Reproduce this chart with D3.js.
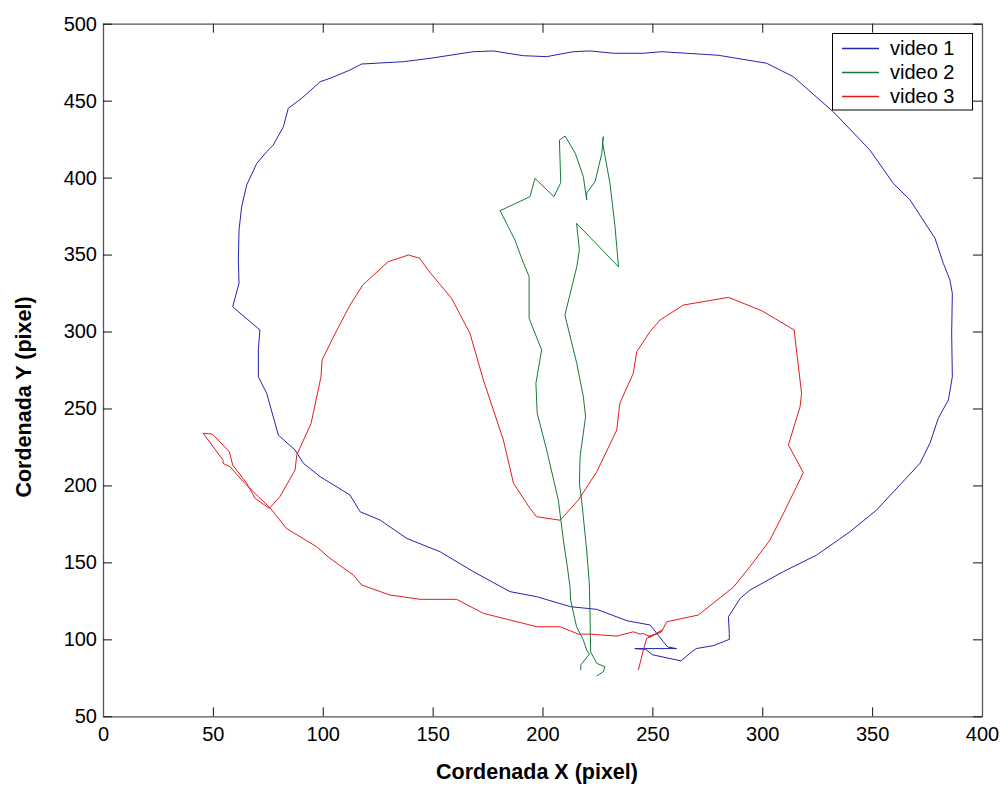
<!DOCTYPE html>
<html><head><meta charset="utf-8">
<script src="https://cdn.jsdelivr.net/npm/d3@7"></script>
<style>
html,body{margin:0;padding:0;background:#fff;}
svg{display:block;font-family:"Liberation Sans",Arial,Helvetica,sans-serif;}
</style></head>
<body><svg id="c" width="1000" height="787"></svg>
<script>
const seriesNames = ["video 1", "video 2", "video 3"];
const seriesColors = ["#2323b0", "#157a36", "#e21c1c"];
const xTicks = [0, 50, 100, 150, 200, 250, 300, 350, 400];
const yTicks = [50, 100, 150, 200, 250, 300, 350, 400, 450, 500];
const xLabel = "Cordenada X (pixel)";
const yLabel = "Cordenada Y (pixel)";

const video1 = [[261,94],[242,94],[247,93.5],[250,90],[263,86],[268,92],[270,94],[278,96],[285,100],[285,104],[284.6,114.7],[290,126.7],[294.4,132],[309.6,144],[324.8,154.8],[339.9,169.9],[352,184],[371.8,214.4],[376.3,227.4],[380.1,243.6],[384.7,255.5],[386.5,270.6],[386.2,298.8],[386.5,324.8],[385.4,333.5],[382.4,344.3],[378.6,360.6],[367.3,385.4],[359.6,396.3],[349,417.9],[332.3,442.8],[314.1,465.6],[302,474.3],[280,479.5],[254.2,481.8],[245.9,480.8],[232.2,480.8],[221.6,482.3],[214,481.8],[201.9,478.6],[191.3,479.2],[177.6,482.3],[168.5,481.8],[148.8,477.5],[136.6,475.3],[117.7,473.8],[112.4,469.9],[103.3,464.5],[98.8,462.3],[90.4,451.5],[84.3,445],[82.1,433.1],[77.5,421.2],[74.5,416.8],[70,409.3],[65.4,395.2],[63.1,381.1],[61.9,366],[61.6,346.5],[61.9,331.3],[59,316.1],[71.4,301],[70.7,288],[70.7,270.6],[74.5,259.8],[79.8,232.7],[87.4,223],[91.2,214.4],[98.8,205.7],[112.4,193.8],[117,182.9],[126.1,177.5],[138.2,165.6],[153.4,156.9],[168.5,144],[185.2,131],[197.4,127.7],[212.8,121.2],[224.7,119.5],[238.4,112.1],[249,109.3],[252.7,102.6],[255,98.4],[257,95],[261,94]];

const video2 = [[217.4,80],[217.4,83.3],[221.3,90.4],[220.1,93],[218.6,99.5],[215.5,108.2],[212.8,125.5],[212.5,134.2],[211.3,147.2],[209.5,164.5],[207.2,190.5],[201.9,223],[197.6,246.8],[197,266.3],[199.6,288],[193.9,308.6],[193.9,335.6],[190.5,347.6],[187.5,359.4],[180.7,378.5],[194.3,387.6],[196.6,399.5],[205.2,387.6],[208.3,396.7],[207.7,424.4],[210.3,427],[214.9,415.8],[218.6,400.6],[220.1,385.5],[220.1,390],[223.9,397.3],[227,415.8],[227.7,426.6],[227.3,423],[230.7,396.3],[233,368.1],[234.6,342],[215.5,370.3],[216.8,353],[215.6,342.1],[210.2,310.7],[215.6,279.3],[218.6,257.6],[219.6,244.6],[217.1,218.7],[216.8,201.4],[217.8,190.5],[220.1,158],[221.3,136.4],[221.6,119],[221.9,91.9],[224.7,84.4],[228.4,82.2],[227.7,79],[224.7,76.2]];

const video3 = [[243.6,80],[245.9,93.1],[247.4,100.7],[251,103],[254.5,106],[249,101.5],[246,103.8],[244.4,103.4],[241.3,104.9],[233.8,102.1],[221.6,103.4],[216.3,103.4],[208,108.2],[197.4,108.2],[173.1,116.9],[160.9,126],[144.3,126],[130.6,128.8],[117.7,135.3],[113.9,141.8],[103.3,152.6],[97.2,160.2],[83.5,172],[76,185.5],[70.7,192.7],[63.8,202.4],[57.8,212.2],[54.6,214.3],[54.7,216.3],[45.6,233.9],[49.8,233.3],[57.5,221.9],[59,213.3],[65.4,201.4],[69.2,191.6],[75.7,185.1],[80.5,192.7],[87.4,210],[88.2,219.8],[94.7,240.4],[99.2,270.6],[99.7,281.5],[104.8,296.4],[112.4,317.2],[113.9,320.5],[118.2,330.2],[129.8,345.4],[139,349.7],[144.1,347.6],[147.9,340],[158.6,321.6],[167,298.8],[173.1,268.5],[182.2,229.5],[186.8,201.4],[194.3,185.1],[197.3,179.7],[208,177.4],[212.2,184],[216.3,190.5],[224.7,208.9],[233.8,236],[235.2,253.4],[241.3,272.8],[242.9,286.9],[248.9,299.9],[253.5,307.5],[264.1,317.2],[284.6,322.2],[299.8,313.5],[314.5,301],[317.9,259.8],[317.2,251.1],[311.9,226.3],[318.7,208.3],[310.4,184],[303.5,164.5],[294.4,147.2],[286.8,133.8],[270.9,115.8],[256.5,111.4],[254.2,104.9],[252,103.5],[248,102]];

const allSeries = [video1, video2, video3];

const svg = d3.select("#c");
const L = 103, T = 23.7, R = 982, B = 716.3;
const x = d3.scaleLinear().domain([0, 400]).range([L, R]);
const y = d3.scaleLinear().domain([50, 500]).range([B, T]);

svg.append("rect").attr("width", 1000).attr("height", 787).attr("fill", "#fff");

// lines
const line = d3.line().x(d => x(d[0])).y(d => y(d[1]));
const g = svg.append("g");
allSeries.forEach((s, i) => {
  g.append("path").datum(s).attr("d", line)
    .attr("fill", "none").attr("stroke", seriesColors[i])
    .attr("stroke-width", 1).attr("stroke-linejoin", "round");
});

// axes
const tickLen = 9;
function styleAxis(sel) {
  sel.selectAll(".domain").attr("stroke", "#555").attr("stroke-width", 1.3);
  sel.selectAll(".tick line").attr("stroke", "#111").attr("stroke-width", 1);
  sel.selectAll(".tick text").attr("fill", "#000").style("font-size", "20px")
    .style("font-family", "'Liberation Sans',Arial,sans-serif");
}
const ax = svg.append("g").attr("transform", `translate(0,${B})`)
  .call(d3.axisBottom(x).tickValues(xTicks).tickSizeInner(-tickLen).tickSizeOuter(0).tickPadding(11));
styleAxis(ax);
const axT = svg.append("g").attr("transform", `translate(0,${T})`)
  .call(d3.axisTop(x).tickValues(xTicks).tickSizeInner(-tickLen).tickSizeOuter(0).tickFormat(""));
styleAxis(axT);
const ay = svg.append("g").attr("transform", `translate(${L},0)`)
  .call(d3.axisLeft(y).tickValues(yTicks).tickSizeInner(-tickLen).tickSizeOuter(0).tickPadding(6));
styleAxis(ay);
const ayR = svg.append("g").attr("transform", `translate(${R},0)`)
  .call(d3.axisRight(y).tickValues(yTicks).tickSizeInner(-tickLen).tickSizeOuter(0).tickFormat(""));
styleAxis(ayR);
ax.selectAll(".tick text").attr("dy", "0.71em");

// axis titles
svg.append("text").attr("x", 537).attr("y", 779).attr("text-anchor", "middle")
  .style("font-size", "21.5px").style("font-weight", "bold").text(xLabel);
svg.append("text").attr("transform", "translate(31,397) rotate(-90)").attr("text-anchor", "middle")
  .style("font-size", "21.5px").style("font-weight", "bold").text(yLabel);

// legend
const lg = svg.append("g");
lg.append("rect").attr("x", 832.5).attr("y", 33.5).attr("width", 140).attr("height", 76.5)
  .attr("fill", "#fff").attr("stroke", "#000").attr("stroke-width", 1);
const rowY = d3.scalePoint().domain(seriesNames).range([48.5, 96.5]);
seriesNames.forEach((n, i) => {
  lg.append("line").attr("x1", 842).attr("x2", 879).attr("y1", rowY(n)).attr("y2", rowY(n))
    .attr("stroke", seriesColors[i]).attr("stroke-width", 1.5);
  lg.append("text").attr("x", 890).attr("y", rowY(n) - 0.5).attr("dy", "0.36em")
    .style("font-size", "20px").text(n);
});
</script></body></html>
